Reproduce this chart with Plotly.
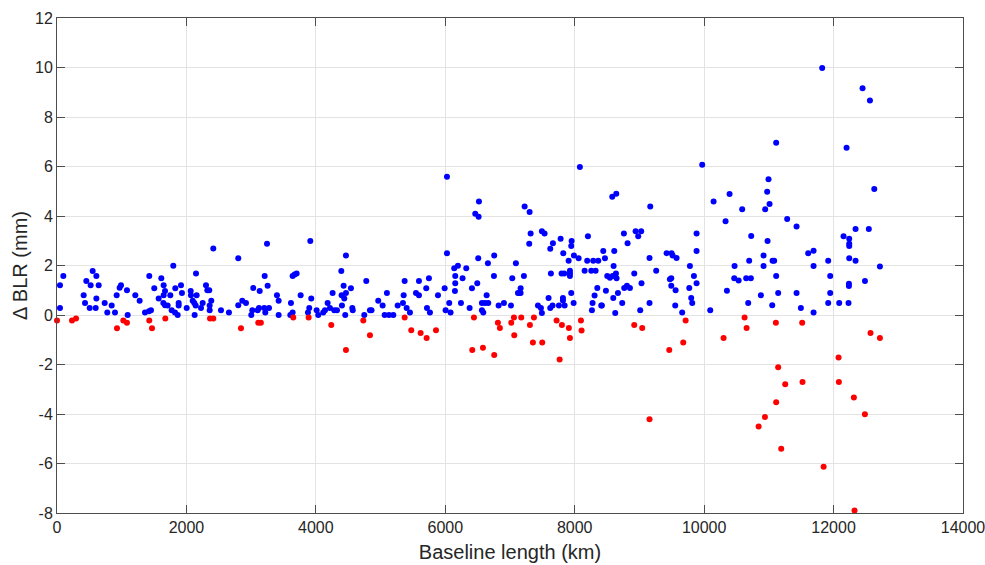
import plotly.graph_objects as go

# Blue series: positive differences (x = baseline length km, y = delta BLR mm)
blue_x = [98, 46, 46, 453, 551, 608, 520, 644, 412, 608, 433, 505, 598, 737, 777, 845, 896, 922, 968, 989,
          1081, 1092, 1210, 1277, 1360, 1421, 1452, 1426, 1503, 1571, 1612, 1648, 1669, 1648, 1643, 1669, 1710,
          1797, 1751, 1828, 1772, 1823, 1865, 1880, 1880, 1916, 1931, 2004, 2066, 2070, 2148, 2097, 2122, 2143,
          2127, 2158, 2225, 2251, 2302, 2323, 2353, 2359, 2384, 2359, 2415,
          2801, 3245, 3914, 4465, 2534, 2657, 2801, 2863, 2920, 3002, 3018, 3033, 3100, 3121, 3132, 3209, 3255,
          3203, 3219, 3276, 3399, 3425, 3425, 3615, 3641, 3605, 3641, 3672, 3703, 3765, 3878, 3898, 3929, 4012,
          4037, 4114, 4141, 4182, 4218, 4259, 4284, 4326, 4393, 4429, 4398, 4439, 4465, 4403, 4454, 4542, 4563,
          4570, 4779, 4748, 4836, 4860, 4964,
          7319, 7297, 6026, 6509, 6756, 6659, 7091, 6195, 6138, 6324, 6154, 6267, 6752, 7215, 7035, 5372, 5593,
          5747, 6154, 6494, 6412, 5706, 5990, 6149, 7164, 7123, 7143, 7164, 5098, 5357, 5547, 5593, 5887, 6639,
          5032, 5346, 5264, 5403, 5454, 5717, 5763, 6061, 6005, 6082, 6242, 6376, 6566, 6615, 6664, 6566, 6587,
          6824, 6906, 7014, 5063, 5130, 5197, 7432,
          6026, 6520, 6463, 6515, 7226, 7303,
          8080, 8580, 8642, 9167, 7493, 7534, 7663, 7622, 7782, 7952, 7946, 7823, 7906, 7988, 8060, 8204, 8193,
          8286, 8364, 8441, 8611, 8467, 8760, 8817, 8941, 9027, 8981, 8601, 8153, 8256, 8323, 7926, 7926, 7632,
          7797, 7838, 7926, 8503, 8544, 8586, 8637, 8647, 8920, 9156, 9259, 9420, 9497, 9513, 9574, 9471, 9492,
          9492, 9559, 9780, 9842, 9883, 9770, 9883, 9883, 8349, 8482, 8307, 8276, 8266, 8410, 8420, 8596, 8668,
          8765, 8807, 8853, 8734, 8626, 9032, 9012, 9156, 9553, 9661, 9800, 9816, 7946, 7983, 7818, 7818, 7844,
          7596, 7622, 7658, 7756, 7478, 7493,
          11113, 9970, 10995, 10974, 11011, 10943, 10393, 10146, 10588, 10331, 11283, 11428, 10727, 10980, 11608,
          11691, 11917, 10696, 10918, 11057, 11082, 10470, 10918, 11691, 10465, 10533, 10650, 10722, 11113,
          11948, 10352, 10877, 11144, 11428, 11948, 10681, 11052, 11495, 11917, 12087, 11691, 10094, 11824,
          12448, 12562, 12201, 12629, 12340, 12545, 12154, 12242, 12242, 12242, 12242, 12340, 12716, 12485,
          12237, 12237, 12231]
blue_y = [1.58, 1.2, 0.28, 1.37, 1.78, 1.58, 1.2, 1.2, 0.8, 0.67, 0.48, 0.28, 0.28, 0.48, 0.1, 0.38, 0.1, 0.8, 1.1, 1.2,
          1.0, 0.0, 0.8, 0.58, 0.1, 0.15, 0.19, 1.58, 1.08, 0.67, 1.48, 1.2, 0.97, 0.8, 0.48, 0.39, 0.38,
          1.99, 0.8, 1.08, 0.19, 0.1, 0.0, 0.48, 0.38, 1.2, 0.89, 0.28, 0.97, 0.8, 1.68, 0.58, 0.48, 0.38,
          0.0, 0.8, 0.28, 0.48, 1.2, 1.0, 1.0, 0.38, 0.58, 0.19, 2.69,
          2.29, 2.88, 2.99, 2.4, 0.19, 0.1, 0.39, 0.58, 0.48, 0.0, 0.19, 1.09, 0.19, 0.28, 0.97, 1.58, 1.18,
          0.28, 0.1, 0.28, 0.8, 0.58, 0.0, 0.48, 0.1, 0.0, 1.58, 1.64, 1.68, 0.8, 0.1, 0.28, 0.67, 0.19,
          0.0, 0.1, 0.19, 0.48, 0.28, 0.89, 0.19, 0.19, 1.78, 1.18, 0.8, 0.67, 0.89, 0.38, 0.0, 1.08, 0.28,
          0.19, 1.37, 0.0, 0.19, 0.19, 0.58,
          3.29, 2.88, 2.49, 2.29, 2.4, 2.09, 2.09, 1.99, 1.89, 1.89, 1.58, 1.48, 1.58, 1.58, 1.48, 1.37, 1.37,
          1.48, 1.28, 1.28, 1.08, 1.08, 1.08, 0.97, 1.08, 0.89, 0.89, 0.89, 0.89, 0.8, 0.89, 0.8, 0.8, 0.8,
          0.38, 0.48, 0.38, 0.28, 0.1, 0.28, 0.1, 0.48, 0.19, 0.1, 0.48, 0.28, 0.48, 0.48, 0.48, 0.19, 0.1,
          0.38, 0.48, 0.38, 0.0, 0.0, 0.0, 0.38,
          5.59, 4.59, 4.09, 3.97, 4.38, 4.16,
          5.98, 4.78, 4.9, 4.38, 3.38, 3.29, 2.9, 2.68, 3.08, 2.99, 2.79, 2.49, 2.19, 2.4, 2.29, 3.18, 2.19,
          2.19, 2.19, 2.59, 2.59, 2.29, 3.29, 2.9, 3.38, 3.38, 3.18, 1.98, 1.79, 1.79, 1.79, 1.79, 1.68, 1.68,
          1.68, 1.68, 1.58, 1.58, 1.51, 1.58, 1.68, 1.48, 1.68, 2.3, 1.79, 2.5, 2.5, 2.4, 2.3, 1.44, 1.48,
          1.18, 1.0, 1.98, 1.58, 1.28, 1.09, 3.29, 2.59, 1.09, 0.98, 0.79, 0.48, 0.19, 0.38, 0.38, 0.69, 0.89,
          1.09, 1.18, 1.09, 0.48, 0.08, 1.28, 0.19, 0.48, 0.38, 0.1, 0.69, 0.48, 0.89, 0.48, 0.69, 0.59, 0.38,
          0.69, 0.28, 0.38, 0.38, 0.28, 0.08,
          6.96, 6.07, 5.48, 4.98, 4.48, 4.27, 4.89, 4.59, 4.27, 3.79, 3.88, 3.58, 3.19, 2.99, 2.49,
          2.6, 2.19, 2.19, 2.4, 2.19, 2.19, 1.98, 1.98, 1.98, 1.48, 1.39, 1.48, 1.48, 1.58,
          1.58, 0.98, 0.8, 0.89, 0.89, 0.89, 0.48, 0.39, 0.28, 0.48, 0.48, 0.1, 0.19, 9.98,
          9.16, 8.67, 6.76, 5.09, 3.47, 3.47, 3.18, 3.08, 2.88, 2.79, 2.29, 2.19, 1.96, 1.37,
          1.26, 1.17, 0.48]

# Red series: negative differences
red_x = [0, 232, 294, 927, 1025, 1081, 1426, 1468, 1674, 2364, 2415, 2843, 3110, 3150, 3651, 3888, 4238, 4465,
         4733, 4836, 5372, 5474, 5619, 5712, 5856, 6443, 6417, 6582, 6756, 6813, 6844, 7019, 7061, 7174, 7308,
         7370, 7066, 7354, 7498, 7720, 7802, 7910, 7926, 8096, 8106, 7767, 8920, 9043, 9461, 9677, 9714, 9156,
         10625, 10656, 10300, 11108, 11515, 12077, 11144, 11253, 11520, 12082, 11113, 10939, 10842, 11191,
         11846, 12571, 12716, 12314, 12484, 12324]
red_y = [-0.22, -0.22, -0.14, -0.54, -0.22, -0.31, -0.22, -0.54, -0.14, -0.14, -0.14, -0.54, -0.31, -0.31, -0.1,
         -0.1, -0.4, -1.41, -0.22, -0.82, -0.1, -0.62, -0.73, -0.93, -0.62, -0.1, -1.41, -1.32, -1.62, -0.31,
         -0.53, -0.31, -0.1, -0.1, -0.4, -0.1, -0.82, -1.11, -1.11, -0.22, -0.4, -0.53, -0.93, -0.22, -0.63,
         -1.8, -0.4, -0.53, -1.41, -1.11, -0.22, -4.21, -0.1, -0.53, -0.93, -0.31, -0.31, -1.72, -2.11, -2.8,
         -2.71, -2.71, -3.53, -4.12, -4.51, -5.4, -6.13, -0.73, -0.93, -3.33, -4.01, -7.9]

x_ticks = [0, 2000, 4000, 6000, 8000, 10000, 12000, 14000]
y_ticks = [-8, -6, -4, -2, 0, 2, 4, 6, 8, 10, 12]

FONT = "Liberation Sans, Arial, sans-serif"

fig = go.Figure()
fig.add_trace(go.Scatter(x=blue_x, y=blue_y, mode="markers",
                         marker=dict(color="#0000ff", size=6), showlegend=False, cliponaxis=False))
fig.add_trace(go.Scatter(x=red_x, y=red_y, mode="markers",
                         marker=dict(color="#ff0000", size=6), showlegend=False, cliponaxis=False))

axis_common = dict(showgrid=True, gridcolor="#e3e3e3", gridwidth=1, zeroline=False,
                   showline=True, linecolor="#4d4d4d", linewidth=1, mirror="ticks",
                   ticks="inside", ticklen=8, tickcolor="#4d4d4d", automargin=False,
                   ticklabeloverflow="allow",
                   tickfont=dict(family=FONT, size=16, color="#262626"))

fig.update_xaxes(range=[0, 14000], tickvals=x_ticks, ticktext=[str(v) for v in x_ticks],
                 title=dict(text="Baseline length (km)", standoff=9,
                            font=dict(family=FONT, size=20, color="#262626")),
                 **axis_common)
fig.update_yaxes(range=[-8, 12], tickvals=y_ticks, ticktext=[str(v) for v in y_ticks],
                 title=dict(text="Δ BLR (mm)", standoff=2,
                            font=dict(family=FONT, size=20, color="#262626")),
                 **axis_common)

fig.update_layout(width=985, height=565, plot_bgcolor="white", paper_bgcolor="white",
                  margin=dict(l=57, r=22, t=18, b=52))

# remove the default page body margin so the figure sits at the window origin
fig.write_html("out.html", config={"displayModeBar": False},
               post_script="document.body.style.margin='0';")
